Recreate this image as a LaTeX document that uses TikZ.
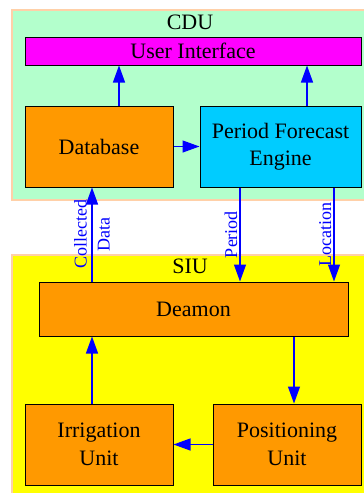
\documentclass[tikz,border=0pt]{standalone}
\usepackage{fontspec}
\setmainfont{Liberation Serif}
\usetikzlibrary{arrows.meta,calc}
\definecolor{cmint}{HTML}{B3FFCC}
\definecolor{cpeach}{HTML}{FFD0A8}
\definecolor{corange}{HTML}{FF9900}
\definecolor{ccyan}{HTML}{00CCFF}
\definecolor{cmag}{HTML}{FF00FF}
\definecolor{cyel}{HTML}{FFFF00}
\begin{document}
\begin{tikzpicture}[x=1pt,y=-1pt,
  box/.style={draw=black,line width=1pt,inner sep=0pt,align=center,
    font=\fontsize{22}{27.5}\selectfont},
  cluster/.style={draw=cpeach,line width=1.5pt},
  clabel/.style={font=\fontsize{22}{27.5}\selectfont,inner sep=0pt},
  conn/.style={draw=blue,line width=1.3pt,-{Triangle[length=17pt,width=12pt]}},
  elabel/.style={text=blue,font=\fontsize{18}{23}\selectfont,align=center,rotate=90,inner sep=2pt}]
\useasboundingbox (0,0) rectangle (364,493);
\clip (0,0) rectangle (364,493);
% clusters
\path[cluster,fill=cmint] (12,10) rectangle (372,200);
\path[cluster,fill=cyel] (12,255) rectangle (372,505);
\node[clabel] (cdu) at (190,22) {CDU};
\node[clabel] (siu) at (190,266) {SIU};
% nodes
\node[box,fill=cmag,minimum width=336,minimum height=28] (ui) at (193,51) {User Interface};
\node[box,fill=corange,minimum width=148,minimum height=81] (db) at (99,146.5) {Database};
\node[box,fill=ccyan,minimum width=161,minimum height=81] (pfe) at (280.5,146.5) {Period Forecast\\Engine};
\node[box,fill=corange,minimum width=309,minimum height=54] (dm) at (193.5,309) {Deamon};
\node[box,fill=corange,minimum width=148,minimum height=81] (irr) at (99,444.5) {Irrigation\\Unit};
\node[box,fill=corange,minimum width=148,minimum height=81] (pos) at (287,444.5) {Positioning\\Unit};
% connectors
\draw[conn] ([xshift=20]db.north) -- ([xshift=20]db.north |- ui.south);
\draw[conn] ([xshift=26.5]pfe.north) -- ([xshift=26.5]pfe.north |- ui.south);
\draw[conn] (db.east) -- (pfe.west);
\draw[conn] ([xshift=-7]db.south |- dm.north) -- node[elabel,anchor=center] {Collected\\Data} ([xshift=-7]db.south);
\draw[conn] ([xshift=-40.5]pfe.south) -- node[elabel,anchor=south] {Period} ([xshift=-40.5]pfe.south |- dm.north);
\draw[conn] ([xshift=53.5]pfe.south) -- node[elabel,anchor=south] {Location} ([xshift=53.5]pfe.south |- dm.north);
\draw[conn] ([xshift=7]pos.north |- dm.south) -- ([xshift=7]pos.north);
\draw[conn] ([xshift=-7]irr.north) -- ([xshift=-7]irr.north |- dm.south);
\draw[conn] (pos.west) -- (irr.east);
\end{tikzpicture}
\end{document}
